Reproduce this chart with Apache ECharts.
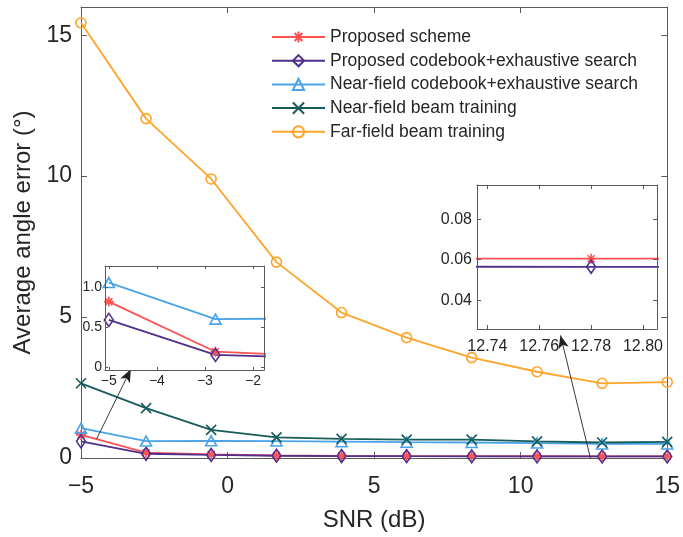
<!DOCTYPE html>
<html>
<head>
<meta charset="utf-8">
<script src="https://cdn.jsdelivr.net/npm/echarts@6/dist/echarts.min.js"></script>
<style>
html,body{margin:0;padding:0;background:#fff;}
#c{width:683px;height:537px;}
</style>
</head>
<body>
<div id="c"></div>
<script>
// ---- data ----
const SNR = [-5, -2.78, -0.56, 1.67, 3.89, 6.11, 8.33, 10.56, 12.78, 15];
const proposedScheme   = [0.82, 0.19, 0.13, 0.09, 0.075, 0.07, 0.065, 0.062, 0.0605, 0.0605];
const proposedCodebook = [0.59, 0.15, 0.11, 0.08, 0.07, 0.063, 0.06, 0.058, 0.0565, 0.0565];
const nfCodebook       = [1.06, 0.60, 0.61, 0.60, 0.58, 0.56, 0.55, 0.53, 0.50, 0.50];
const nfTraining       = [2.65, 1.77, 1.00, 0.73, 0.68, 0.65, 0.65, 0.59, 0.55, 0.57];
const farField         = [15.44, 12.04, 9.90, 6.95, 5.16, 4.27, 3.56, 3.06, 2.65, 2.69];
const seriesNames = ['Proposed scheme', 'Proposed codebook+exhaustive search',
  'Near-field codebook+exhaustive search', 'Near-field beam training', 'Far-field beam training'];
const mainXTicks = [-5, 0, 5, 10, 15];
const mainYTicks = [0, 5, 10, 15];
const inset1XTicks = [-5, -4, -3, -2];
const inset1YTicks = [0, 0.5, 1];
const inset2XTicks = [12.74, 12.76, 12.78, 12.80];
const inset2YTicks = [0.04, 0.06, 0.08];
// zoom arrows (annotation endpoints in data coordinates: [from, to])
const arrowAnnotations = [
  [[-4.47, 0.67], [-3.30, 3.15]],
  [[12.38, 0.0], [11.36, 4.35]]
];

// ---- styles ----
const colors = ['#FF5252', '#4F2F8C', '#4AA3E8', '#175C5A', '#FFA42B'];
const symbols = [
  'path://M5,0L5,10M0,5L10,5M1.5,1.5L8.5,8.5M1.5,8.5L8.5,1.5',
  'diamond', 'triangle', 'path://M0,0L10,10M0,10L10,0', 'circle'
];
const symbolSizes = [[10,10], [9,13], [11,10], [10,10], [10,10]];
const values = [proposedScheme, proposedCodebook, nfCodebook, nfTraining, farField];
const TXT = '#262626';
const AX = '#5a5a5a';
const FONT = 'Liberation Sans, Arial, Helvetica, sans-serif';
const minus = v => String(v).replace('-', '\u2212');

function pairs(arr) { return SNR.map((x, i) => [x, arr[i]]); }

function mkSeries(idx, xi, yi, z) {
  return {
    type: 'line', name: seriesNames[idx], xAxisIndex: xi, yAxisIndex: yi,
    data: pairs(values[idx]), z: z,
    symbol: symbols[idx], symbolSize: symbolSizes[idx], showAllSymbol: true,
    color: colors[idx],
    lineStyle: {color: colors[idx], width: 1.8},
    itemStyle: {color: 'rgba(255,255,255,0)', borderColor: colors[idx], borderWidth: 1.6},
    emphasis: {disabled: true}, animation: false
  };
}

function axisPair(gridIndex, min, max, tickVals, fmt, fontSize, margin, tickLen, isX, z) {
  const base = {
    type: 'value', gridIndex: gridIndex, min: min, max: max, z: z,
    splitLine: {show: false},
    axisLine: {show: true, onZero: false, lineStyle: {color: AX, width: 1}},
  };
  const primary = Object.assign({}, base, {
    position: isX ? 'bottom' : 'left',
    axisTick: {show: true, inside: true, length: tickLen, customValues: tickVals, lineStyle: {color: AX}},
    axisLabel: {show: true, customValues: tickVals, formatter: fmt, color: TXT,
      fontSize: fontSize, fontFamily: FONT, margin: margin}
  });
  const secondary = Object.assign({}, base, {
    position: isX ? 'top' : 'right',
    axisTick: {show: true, inside: true, length: tickLen, customValues: tickVals, lineStyle: {color: AX}},
    axisLabel: {show: false}
  });
  return [primary, secondary];
}

const xAxes = [], yAxes = [];
// main grid (0): axes indices 0,1
xAxes.push(...axisPair(0, -5, 15, mainXTicks, v => minus(v), 23, 17, 6, true, 0));
yAxes.push(...axisPair(0, 0, 16, mainYTicks, v => String(v), 23, 9, 6, false, 0));
xAxes[0].name = 'SNR (dB)'; xAxes[0].nameLocation = 'middle'; xAxes[0].nameGap = 50;
xAxes[0].nameTextStyle = {fontSize: 24, color: TXT, fontFamily: FONT};
yAxes[0].name = 'Average angle error (\u00B0)'; yAxes[0].nameLocation = 'middle'; yAxes[0].nameGap = 40;
yAxes[0].nameTextStyle = {fontSize: 24, color: TXT, fontFamily: FONT};
// inset 1 (grid 1): indices 2,3
xAxes.push(...axisPair(1, -5.08, -1.77, inset1XTicks, v => minus(v), 14, 4, 3, true, 12));
yAxes.push(...axisPair(1, -0.04, 1.268, inset1YTicks, v => v === 0 ? '0' : v.toFixed(1), 14, 3, 3, false, 12));
// inset 2 (grid 2): indices 4,5
xAxes.push(...axisPair(2, 12.736, 12.8054, inset2XTicks, v => v.toFixed(2), 16, 10, 4, true, 12));
yAxes.push(...axisPair(2, 0.0257, 0.097, inset2YTicks, v => v.toFixed(2), 16, 5, 4, false, 12));

const series = [];
for (let i = 0; i < 5; i++) series.push(mkSeries(i, 0, 0, 2));
for (let i = 0; i < 3; i++) series.push(Object.assign(mkSeries(i, 2, 2, 11), {name: seriesNames[i] + ' ', legendHoverLink: false}));
for (let i = 0; i < 2; i++) series.push(Object.assign(mkSeries(i, 4, 4, 11), {name: seriesNames[i] + '  ', legendHoverLink: false}));
series.push({
  type: 'line', name: 'arrows', xAxisIndex: 0, yAxisIndex: 0, data: [], z: 13, clip: false,
  silent: true, animation: false,
  markLine: {
    silent: true, animation: false,
    symbol: ['none', 'arrow'], symbolSize: [8, 13],
    label: {show: false},
    lineStyle: {color: '#222', width: 0.9, type: 'solid'},
    emphasis: {disabled: true},
    data: arrowAnnotations.map(a => [{coord: a[0]}, {coord: a[1]}])
  }
});

const chart = echarts.init(document.getElementById('c'), null, {renderer: 'canvas'});
chart.setOption({
  animation: false,
  backgroundColor: '#fff',
  grid: [
    {left: 81, top: 7, width: 589, height: 453, containLabel: false},
    {left: 105, top: 266, width: 159, height: 104, show: true, backgroundColor: '#fff', borderWidth: 0, z: 10},
    {left: 477, top: 185, width: 180, height: 144, show: true, backgroundColor: '#fff', borderWidth: 0, z: 10}
  ],
  legend: {
    data: seriesNames, orient: 'vertical', left: 266, top: 23,
    itemWidth: 53, itemHeight: 14, itemGap: 5.7,
    textStyle: {fontSize: 17.5, color: TXT, fontFamily: FONT, lineHeight: 18},
    selectedMode: false
  },
  xAxis: xAxes,
  yAxis: yAxes,
  series: series
});
</script>
</body>
</html>
